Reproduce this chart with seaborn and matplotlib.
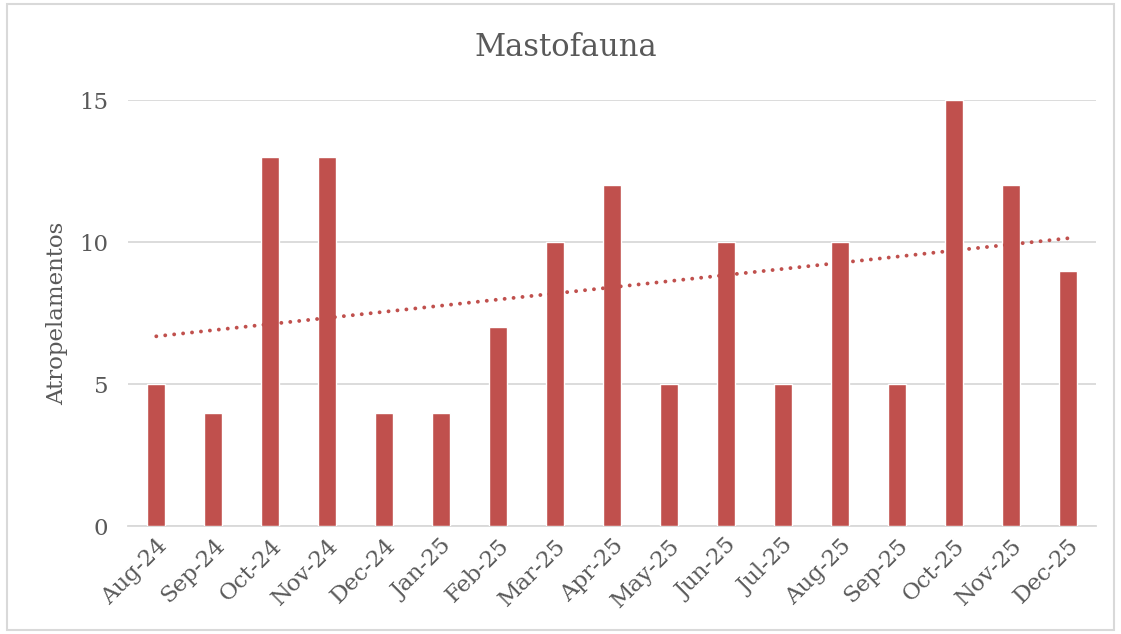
import seaborn as sns
import matplotlib.pyplot as plt
import numpy as np
import pandas as pd

meses = ["Aug-24", "Sep-24", "Oct-24", "Nov-24", "Dec-24", "Jan-25", "Feb-25", "Mar-25", "Apr-25",
         "May-25", "Jun-25", "Jul-25", "Aug-25", "Sep-25", "Oct-25", "Nov-25", "Dec-25"]
atropelamentos = [5, 4, 13, 13, 4, 4, 7, 10, 12, 5, 10, 5, 10, 5, 15, 12, 9]

dados = pd.DataFrame({"mes": meses, "n": atropelamentos})

sns.set_style("white")
plt.rcParams['font.family'] = ['DejaVu Serif']
cinza = "#595959"
cor = "#C0504D"

fig = plt.figure(figsize=(11.21, 6.34), dpi=100)
ax = fig.add_axes([0.114, 0.170, 0.864, 0.672])

sns.barplot(data=dados, x="mes", y="n", color=cor, saturation=1, width=0.32, ax=ax, zorder=3)

# linha de tendencia (linear)
x = np.arange(len(atropelamentos))
a, b = np.polyfit(x, atropelamentos, 1)
ax.plot(x, a * x + b, color=cor, linestyle=(0, (0.01, 2.3)), dash_capstyle="round",
        linewidth=2.8, zorder=4)

ax.set_ylim(0, 15)
ax.set_xlim(-0.5, len(meses) - 0.5)
ax.set_yticks([0, 5, 10, 15])
ax.yaxis.grid(True, color="#D9D9D9", linewidth=1.3, zorder=0)
ax.set_axisbelow(True)
for s in ["top", "right", "left"]:
    ax.spines[s].set_visible(False)
ax.spines["bottom"].set_color("#D9D9D9")
ax.spines["bottom"].set_linewidth(1.3)

ax.tick_params(axis="both", length=0, labelsize=16.5, labelcolor=cinza)
ax.tick_params(axis="y", pad=14)
ax.tick_params(axis="x", pad=6)
plt.setp(ax.get_xticklabels(), rotation=45, ha="right", rotation_mode="anchor")
ax.set_xlabel("")
ax.set_ylabel("Atropelamentos", fontsize=16.5, color=cinza, labelpad=8)
fig.text(0.505, 0.925, "Mastofauna", fontsize=22, color=cinza, ha="center", va="center")

# moldura
fig.patches.append(plt.Rectangle((0.006, 0.006), 0.988, 0.988, transform=fig.transFigure,
                                 fill=False, edgecolor="#D9D9D9", linewidth=1.5))

plt.savefig("out.png", dpi=100)
